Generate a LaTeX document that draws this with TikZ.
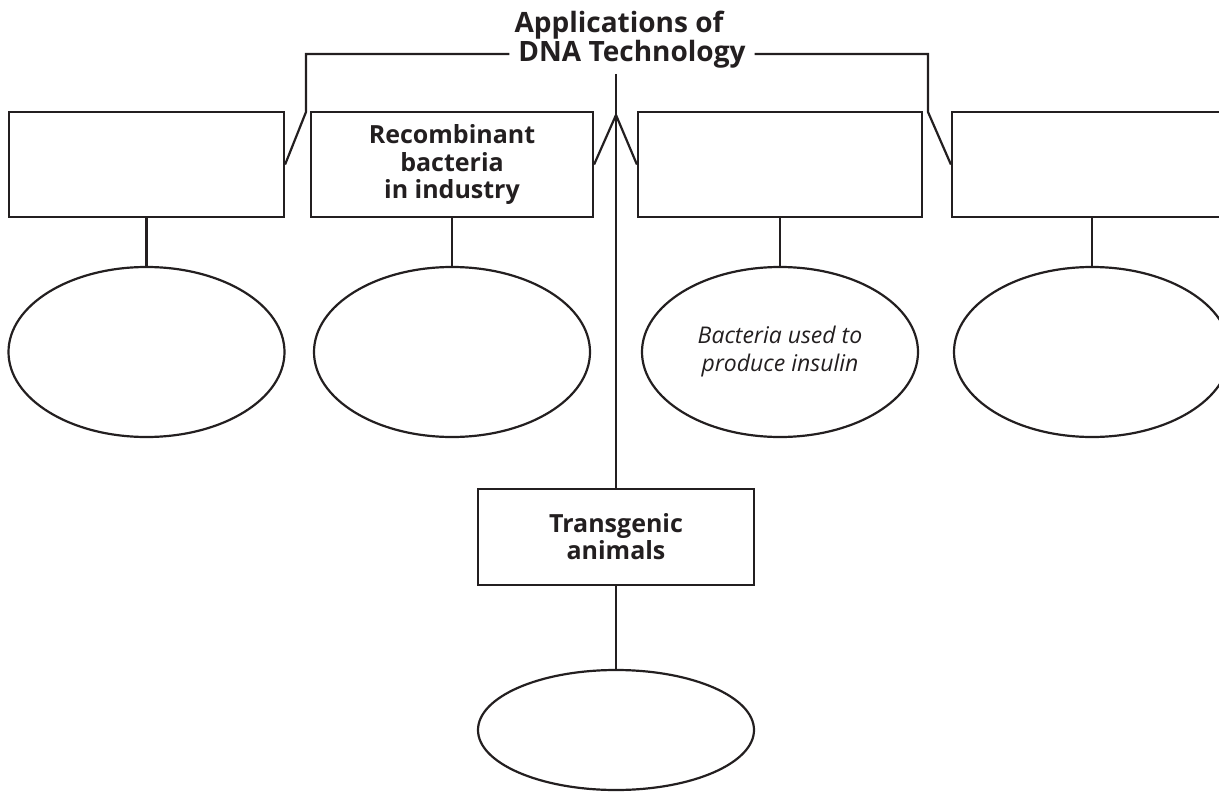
\documentclass[tikz,border=0pt]{standalone}
\usepackage{fontspec}
\setmainfont{Open Sans}
\usepackage{tikz}
\usetikzlibrary{positioning,shapes.geometric}

\definecolor{ink}{RGB}{35,31,32}

\begin{document}
\begin{tikzpicture}[x=1pt,y=-1pt,line width=2.2pt,draw=ink,text=ink,
    head/.style={font=\bfseries\fontsize{28}{29}\selectfont,anchor=base,inner sep=8pt},
    box/.style={draw,rectangle,minimum width=275pt,minimum height=105pt,align=center,
        font=\bfseries\fontsize{25}{27}\selectfont},
    oval/.style={draw,ellipse,minimum width=276pt,minimum height=170pt,inner sep=0pt,align=center,
        font=\itshape\fontsize{23}{28}\selectfont}]

    \useasboundingbox (0,0) rectangle (1219,792);

    % The title
    \node [head] at (619,33) (head1) {Applications of};
    \node [head] at (632,62) (head2) {DNA Technology};

    % The boxes
    \node [box] at (146.5,164.5) (app1) {};
    \node [box, minimum width=282pt] at (452,164.5) (recomb) {\strut Recombinant\\bacteria\\in industry};
    \node [box, minimum width=284pt] at (780,164.5) (app3) {};
    \node [box, minimum width=280pt] at (1092,164.5) (app4) {};
    \node [box, minimum width=276pt, minimum height=96pt] at (616,537) (transgenic) {Transgenic\\animals};

    % The ovals
    \node [oval] at (146.5,352) (ex1) {};
    \node [oval] at (452,352) (ex2) {};
    \node [oval] at (780,352) (ex3) {Bacteria used to\\produce insulin};
    \node [oval] at (1092,352) (ex4) {};
    \node [oval, minimum height=120pt] at (616,730) (ex5) {};

    % Bends of the branches
    \coordinate (lcorner) at (306,54);
    \coordinate (lknee) at (306,112);
    \coordinate (rcorner) at (928,54);
    \coordinate (rknee) at (928,112);
    \coordinate (stem) at (616,74);
    \coordinate (fork) at (616,115);

    % Branches
    \draw (head2.west |- lcorner) -- (lcorner) -- (lknee) -- (app1.east);
    \draw (head2.east |- rcorner) -- (rcorner) -- (rknee) -- (app4.west);
    \draw (recomb.east) -- (fork) -- (app3.west);
    \draw (stem) -- (transgenic);

    \path
    (app1) edge (ex1)
    (recomb) edge (ex2)
    (app3) edge (ex3)
    (app4) edge (ex4)
    (transgenic) edge (ex5)
    ;

\end{tikzpicture}
\end{document}
